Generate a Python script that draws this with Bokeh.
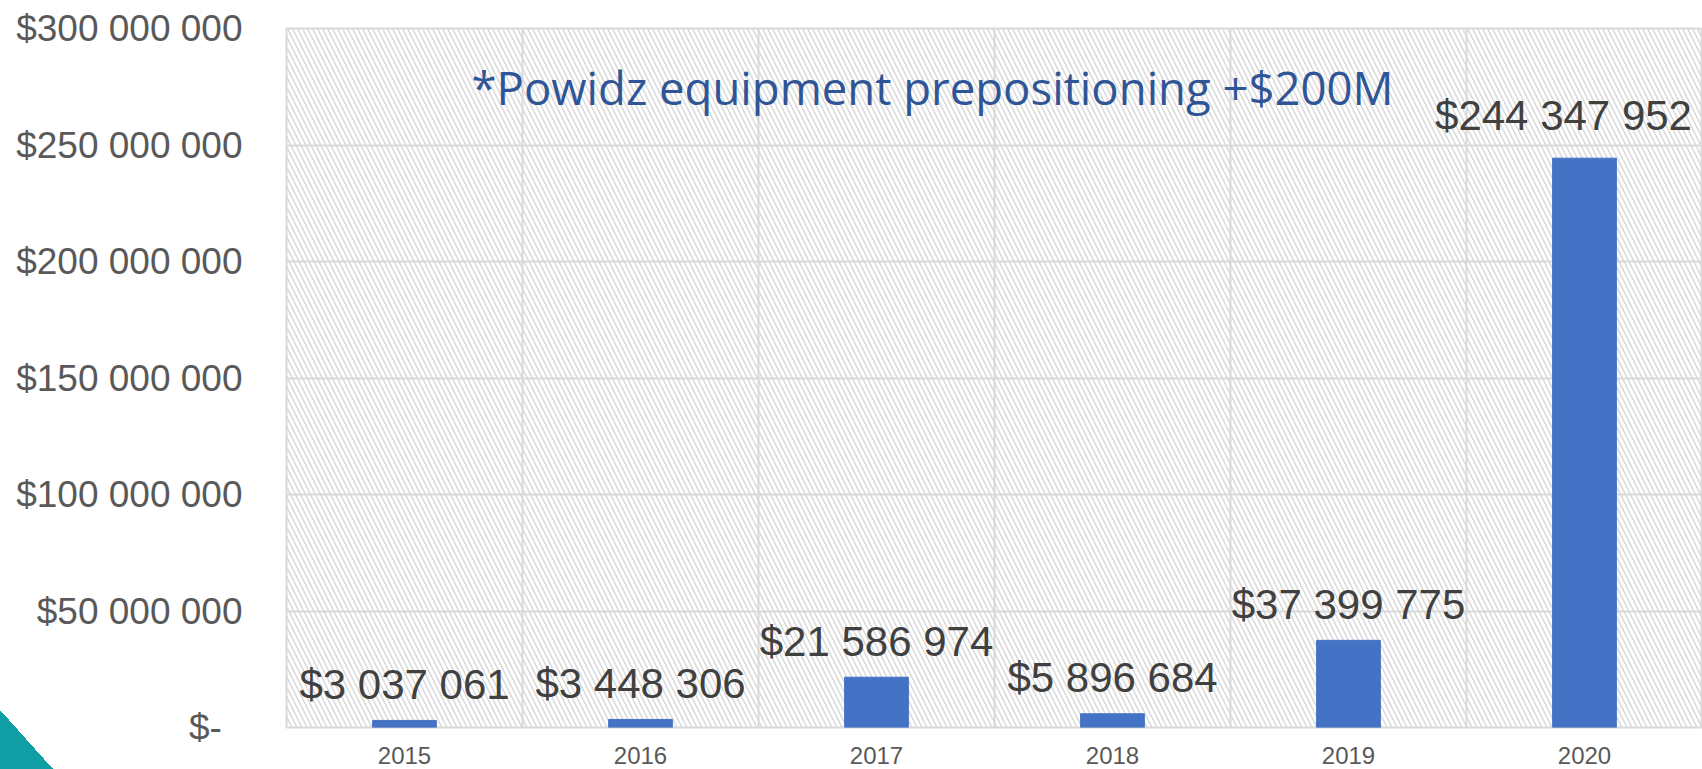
from bokeh.plotting import figure
from bokeh.models import (ColumnDataSource, FixedTicker, CustomJSTickFormatter,
                          BoxAnnotation, Label, Range1d, InlineStyleSheet)
from bokeh.core.properties import value
from bokeh.embed import file_html
from bokeh.resources import INLINE

years = ["2015", "2016", "2017", "2018", "2019", "2020"]
amounts = [3037061, 3448306, 21586974, 5896684, 37399775, 244347952]
amount_labels = ["$3 037 061", "$3 448 306", "$21 586 974", "$5 896 684",
                 "$37 399 775", "$244 347 952"]
y_ticks = [0, 50000000, 100000000, 150000000, 200000000, 250000000, 300000000]
note_text = "*Powidz equipment prepositioning +$200M"

# label placement tweaks (pixels)
label_dx = [0, 0, 0, 0, 0, -21]
label_dy = [-36, -36, -36, -36, -36, -43]

xs = list(range(len(years)))
src = ColumnDataSource(dict(x=xs, top=amounts, lab=amount_labels,
                            dx=label_dx, dy=label_dy))

p = figure(width=1702, height=769, output_backend="svg", toolbar_location=None,
           x_range=Range1d(-0.5, len(years) - 0.5), y_range=Range1d(0, 300000000),
           min_border_left=286, min_border_right=0, min_border_top=28,
           min_border_bottom=42)
p.background_fill_color = "white"
p.border_fill_color = None
p.outline_line_color = "#D9D9D9"
p.outline_line_width = 2
p.stylesheets = [InlineStyleSheet(css=""":host {
  background: linear-gradient(to top right, #0E9EA4 50%, transparent 50%) no-repeat left bottom / 53px 59px, white;
}""")]

# hatched background
bg = BoxAnnotation(fill_color="white", fill_alpha=0.0, line_color=None,
                   hatch_pattern="\\", hatch_color="#D9D9D9", hatch_scale=10,
                   hatch_weight=1.5, level="underlay")
p.add_layout(bg)

p.vbar(x="x", top="top", width=0.27, source=src, fill_color="#4472C4",
       line_color="#4472C4")

p.text(x="x", y="top", text="lab", source=src, text_align="center",
       text_baseline="alphabetic", x_offset="dx", y_offset="dy",
       text_color="#404040",
       text_font=value("Liberation Sans"), text_font_size="42px")

# grids
p.xgrid.ticker = FixedTicker(ticks=[i - 0.5 for i in xs] + [len(xs) - 0.5])
p.xgrid.grid_line_color = "#D9D9D9"
p.xgrid.grid_line_width = 2
p.ygrid.ticker = FixedTicker(ticks=y_ticks)
p.ygrid.grid_line_color = "#D9D9D9"
p.ygrid.grid_line_width = 2

# axes
p.xaxis.ticker = FixedTicker(ticks=xs)
p.xaxis.major_label_overrides = {i: y for i, y in zip(xs, years)}
p.xaxis.axis_line_color = None
p.xaxis.major_tick_line_color = None
p.xaxis.minor_tick_line_color = None
p.xaxis.major_label_text_font = "Liberation Sans"
p.xaxis.major_label_text_font_size = "24px"
p.xaxis.major_label_text_color = "#595959"
p.xaxis.major_label_standoff = 13

p.yaxis.ticker = FixedTicker(ticks=y_ticks)
p.yaxis.formatter = CustomJSTickFormatter(code="""
if (tick == 0) { return "$-\\u2007"; }
const s = Math.round(tick).toString().replace(/\\B(?=(\\d{3})+(?!\\d))/g, " ");
return "$" + s;
""")
p.yaxis.axis_line_color = None
p.yaxis.major_tick_line_color = None
p.yaxis.minor_tick_line_color = None
p.yaxis.major_label_text_font = "Liberation Sans"
p.yaxis.major_label_text_font_size = "37px"
p.yaxis.major_label_text_color = "#595959"
p.yaxis.major_label_standoff = 38

note = Label(x=0.284, y=274700000, text=note_text, text_color="#2F5597",
             text_font="Open Sans", text_font_size="45.5px",
             text_baseline="alphabetic")
p.add_layout(note)

open("out.html", "w").write(file_html(p, INLINE))
